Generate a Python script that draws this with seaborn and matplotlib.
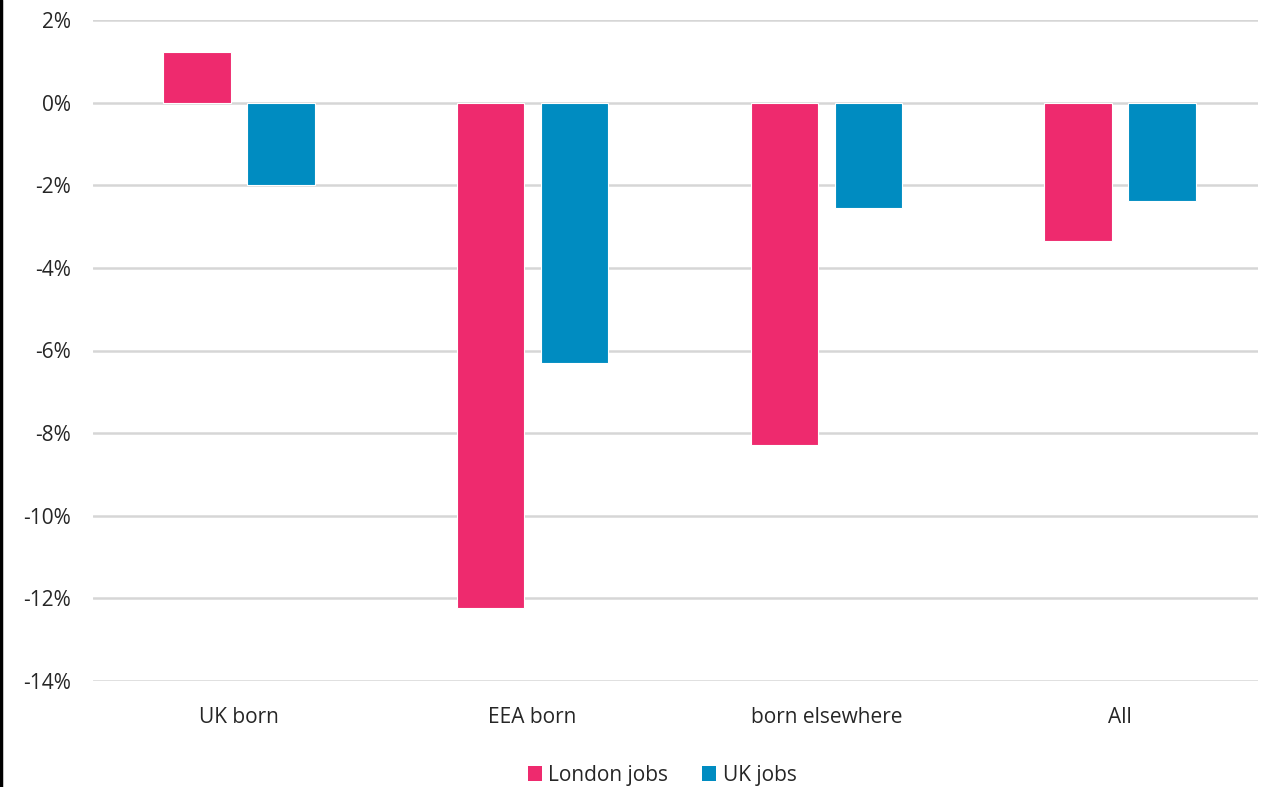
import matplotlib
matplotlib.use("Agg")
import matplotlib.pyplot as plt
from matplotlib.lines import Line2D
from matplotlib.patches import Patch
from matplotlib.ticker import FuncFormatter, MultipleLocator
import pandas as pd
import seaborn as sns

# Change in jobs by country of birth (%)
categories = ["UK born", "EEA born", "born elsewhere", "All"]
london_jobs = [1.23, -12.23, -8.28, -3.34]
uk_jobs = [-1.99, -6.30, -2.54, -2.37]
series_names = ["London jobs", "UK jobs"]
colors = ["#EE2A6E", "#008CC1"]

df = pd.DataFrame({
    "category": categories * 2,
    "series": [series_names[0]] * len(categories) + [series_names[1]] * len(categories),
    "value": london_jobs + uk_jobs,
})

sns.set_theme(style="white")
plt.rcParams["font.family"] = ["Open Sans", "DejaVu Sans"]

fig = plt.figure(figsize=(12.61, 7.87), dpi=100)
ax = fig.add_axes([93 / 1261, 1 - 681 / 787, (1258 - 93) / 1261, (681 - 20) / 787])

sns.barplot(data=df, x="category", y="value", hue="series", order=categories,
            hue_order=series_names, palette=colors, width=0.572, gap=0.2,
            saturation=1, edgecolor="white", linewidth=0.8, ax=ax, legend=False)

ax.set_ylim(-14, 2)
ax.set_xlim(-0.497, 3.47)
ax.yaxis.set_major_locator(MultipleLocator(2))
ax.yaxis.set_major_formatter(FuncFormatter(lambda v, _: f"{v:.0f}%"))
ax.grid(axis="y", color="#d6d6d6", linewidth=1.8)
ax.set_axisbelow(True)
for s in ax.spines.values():
    s.set_visible(False)
ax.set_xlabel("")
ax.set_ylabel("")
ax.tick_params(axis="y", labelsize=15, colors="#262626", pad=16, length=0)
ax.tick_params(axis="x", labelsize=15, colors="#262626", pad=19, length=0)

handles = [Patch(facecolor=c, edgecolor="none") for c in colors]
fig.legend(handles, series_names, loc="center", bbox_to_anchor=(0.525, 1 - 775 / 787),
           ncol=2, frameon=False, fontsize=15, handlelength=0.7, handleheight=0.7,
           handletextpad=0.3, columnspacing=1.6, labelcolor="#262626")

# Left border line of the chart frame
fig.add_artist(Line2D([1.5 / 1261, 1.5 / 1261], [0, 1], transform=fig.transFigure,
                      color="black", linewidth=2.5))

fig.savefig("out.png", dpi=100, facecolor="white")
